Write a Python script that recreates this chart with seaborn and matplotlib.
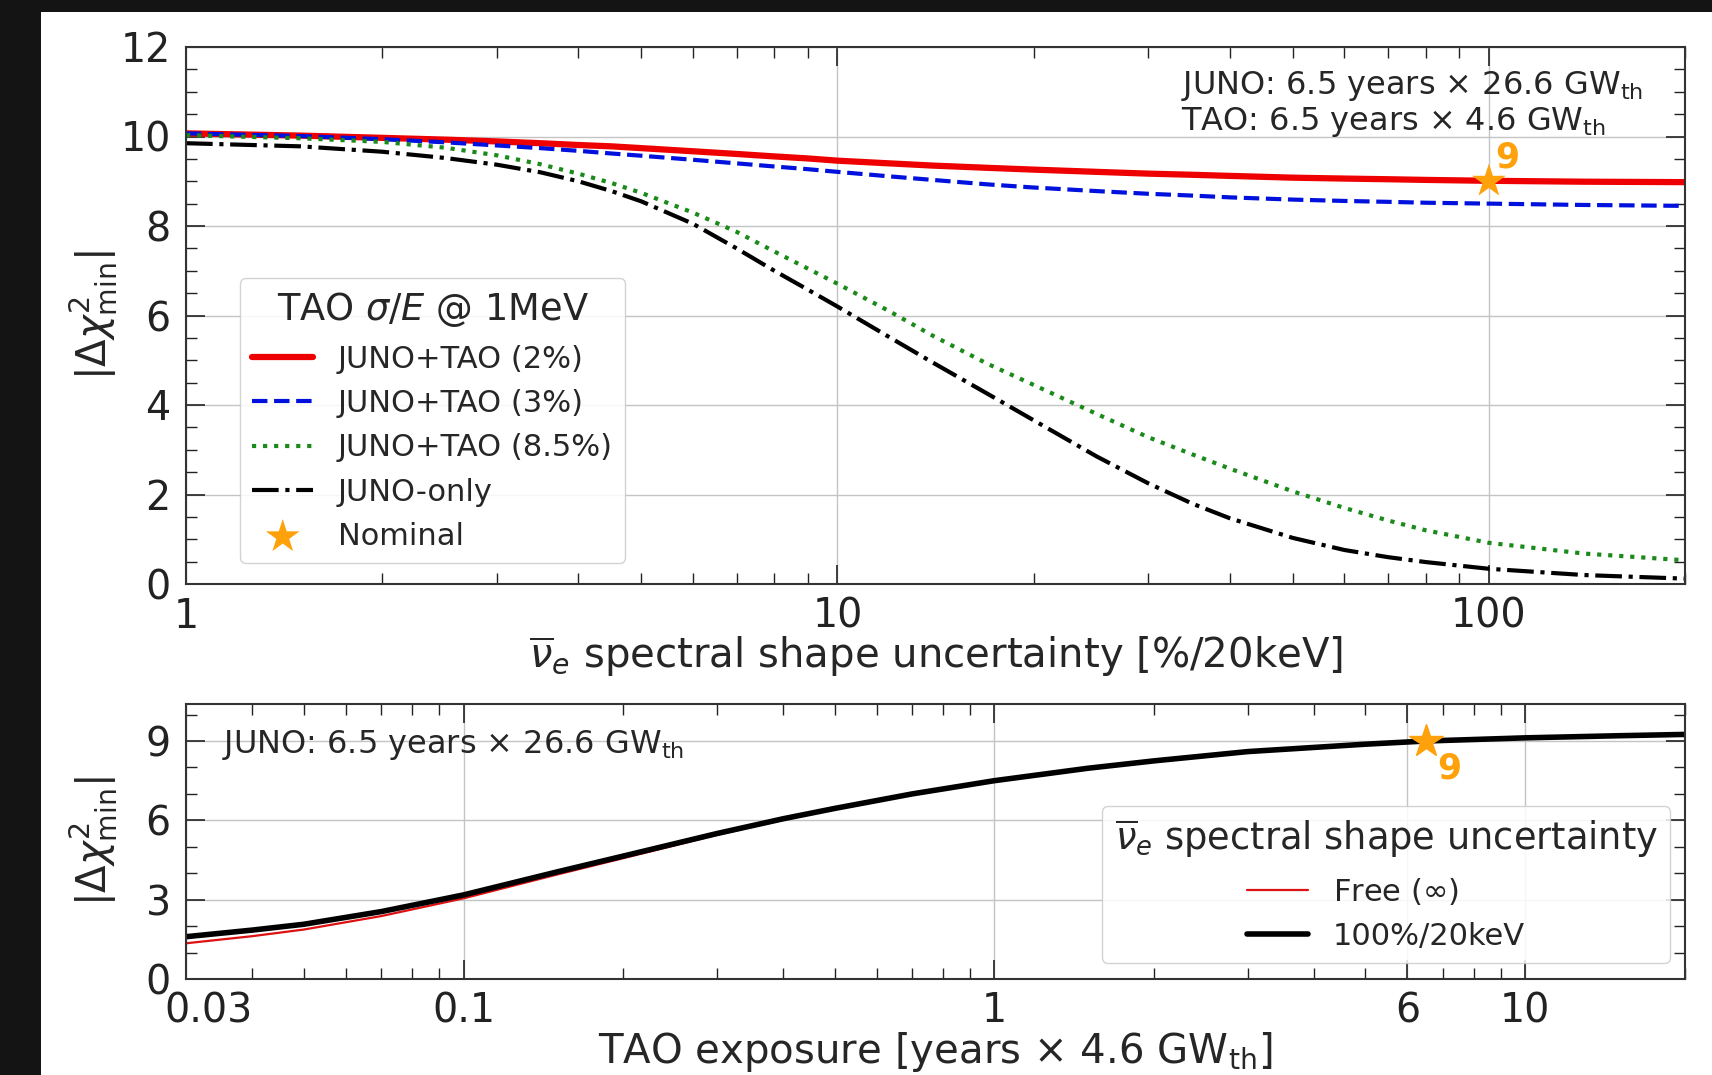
import numpy as np
import pandas as pd
import matplotlib
matplotlib.use("Agg")
import matplotlib.pyplot as plt
import matplotlib.transforms as mtransforms
from matplotlib.patches import Rectangle
from matplotlib.ticker import MultipleLocator, NullFormatter
import seaborn as sns

# ---------------- data ----------------
x_top = [1, 1.5, 2, 2.5, 3, 3.5, 4, 4.5, 5, 6, 7, 8, 9, 10, 12, 14, 17, 20, 25, 30, 35, 40,
         50, 60, 70, 80, 100, 140, 200]
juno_tao_2 = [10.07, 10.02, 9.97, 9.93, 9.89, 9.85, 9.81, 9.78, 9.74, 9.67, 9.61, 9.555, 9.51,
              9.46, 9.40, 9.35, 9.30, 9.26, 9.21, 9.17, 9.145, 9.12, 9.08, 9.06, 9.045, 9.03,
              9.01, 8.99, 8.98]
juno_tao_3 = [10.07, 10.01, 9.94, 9.87, 9.80, 9.74, 9.68, 9.62, 9.57, 9.48, 9.40, 9.33, 9.27,
              9.21, 9.11, 9.03, 8.93, 8.86, 8.78, 8.72, 8.68, 8.64, 8.59, 8.56, 8.54, 8.52,
              8.50, 8.47, 8.45]
juno_tao_85 = [10.03, 9.96, 9.88, 9.75, 9.58, 9.38, 9.17, 8.96, 8.74, 8.30, 7.87, 7.43, 7.05,
               6.71, 6.10, 5.55, 4.92, 4.45, 3.80, 3.28, 2.90, 2.58, 2.07, 1.70, 1.42, 1.20,
               0.92, 0.68, 0.53]
juno_only = [9.85, 9.78, 9.66, 9.52, 9.37, 9.20, 9.00, 8.78, 8.55, 8.05, 7.50, 7.00, 6.58,
             6.20, 5.52, 4.95, 4.25, 3.66, 2.85, 2.25, 1.80, 1.47, 1.03, 0.76, 0.60, 0.49,
             0.34, 0.20, 0.12]
nominal_top = (100, 9.0)

x_bot = [0.03, 0.04, 0.05, 0.07, 0.1, 0.15, 0.2, 0.3, 0.4, 0.5, 0.7, 1, 1.5, 2, 3, 5, 6.5,
         10, 15, 20]
free_inf = [1.35, 1.62, 1.87, 2.38, 3.05, 3.95, 4.57, 5.45, 6.02, 6.43, 6.98, 7.47, 7.95, 8.23,
            8.59, 8.87, 8.99, 9.11, 9.19, 9.24]
shape_100 = [1.60, 1.85, 2.07, 2.55, 3.18, 4.05, 4.65, 5.50, 6.06, 6.45, 7.00, 7.50, 7.97, 8.25,
             8.60, 8.88, 9.00, 9.12, 9.20, 9.25]
nominal_bot = (6.5, 9.0)

top_xticks = [1, 10, 100]
top_xticklabels = ["1", "10", "100"]
top_yticks = [0, 2, 4, 6, 8, 10, 12]
bot_xticks = [0.03, 0.1, 1, 6, 10]
bot_xticklabels = ["0.03", "0.1", "1", "6", "10"]
bot_yticks = [0, 3, 6, 9]

df_top = pd.DataFrame({"x": x_top, "r2": juno_tao_2, "r3": juno_tao_3,
                       "r85": juno_tao_85, "jo": juno_only})
df_bot = pd.DataFrame({"x": x_bot, "free": free_inf, "s100": shape_100})

# ---------------- style ----------------
sns.set_theme(style="ticks")
plt.rcParams["font.family"] = ["DejaVu Sans"]
plt.rcParams["mathtext.fontset"] = "dejavusans"
plt.rcParams["axes.edgecolor"] = "#333333"
plt.rcParams["axes.linewidth"] = 1.5

fig = plt.figure(figsize=(17.12, 10.75), dpi=100)
fig.patch.set_facecolor("#141414")
fig.add_artist(Rectangle((41 / 1712, 0), 1 - 41 / 1712, (1075 - 12) / 1075,
                         transform=fig.transFigure, facecolor="white",
                         edgecolor="none", zorder=-10))

ax1 = fig.add_axes([186 / 1712, 1 - 584 / 1075, 1499 / 1712, 537 / 1075])
ax2 = fig.add_axes([186 / 1712, 1 - 979 / 1075, 1499 / 1712, 275 / 1075])

ORANGE = "#ffa10a"
TICK_FS = 28.5
LABEL_FS = 29
TEXT_FS = 23
LEG_FS = 22
LEG_TITLE_FS = 26.5
YLABEL_X = (120 - 186) / 1499


def style_axis(ax):
    ax.set_xscale("log")
    ax.grid(True, which="major", color="#c4c4c4", linewidth=1.0)
    ax.tick_params(which="both", direction="in", top=True, right=True,
                   colors="#222222")
    ax.tick_params(which="major", length=14, width=1.2, labelsize=TICK_FS)
    ax.tick_params(which="minor", length=8, width=1.0)
    ax.tick_params(axis="x", which="major", pad=9)
    ax.tick_params(axis="y", which="major", pad=11)
    ax.xaxis.set_minor_formatter(NullFormatter())
    for s in ax.spines.values():
        s.set_visible(True)
        s.set_color("#333333")
        s.set_linewidth(1.5)


# ---------------- top panel ----------------
sns.lineplot(data=df_top, x="x", y="r2", ax=ax1, color="#ee0000", linewidth=4.5,
             label="JUNO+TAO (2%)")
sns.lineplot(data=df_top, x="x", y="r3", ax=ax1, color="#0010dd", linewidth=3,
             linestyle="--", label="JUNO+TAO (3%)")
sns.lineplot(data=df_top, x="x", y="r85", ax=ax1, color="#1a8a1a", linewidth=3,
             linestyle=":", label="JUNO+TAO (8.5%)")
sns.lineplot(data=df_top, x="x", y="jo", ax=ax1, color="black", linewidth=3,
             linestyle="-.", label="JUNO-only")
sns.scatterplot(x=[nominal_top[0]], y=[nominal_top[1]], ax=ax1, marker="*", s=650,
                color=ORANGE, edgecolor="none", label="Nominal", zorder=5)
ax1.annotate("9", xy=nominal_top, xytext=(13, 17), textcoords="offset points",
             color=ORANGE, fontsize=25, fontweight="bold", ha="center", va="center")

style_axis(ax1)
ax1.set_xlim(1, 200)
ax1.set_ylim(0, 12)
ax1.set_xticks(top_xticks, top_xticklabels)
ax1.set_yticks(top_yticks)
ax1.yaxis.set_minor_locator(MultipleLocator(0.5))
ax1.set_xlabel(r"$\overline{\nu}_e$ spectral shape uncertainty [%/20keV]", fontsize=LABEL_FS,
               labelpad=-2)
ax1.set_ylabel(r"$|\Delta\chi^2_{\rm min}|$", fontsize=LABEL_FS)
ax1.yaxis.set_label_coords(YLABEL_X, 0.5)

ax1.text(0.664, 0.912, r"JUNO: 6.5 years $\times$ 26.6 GW$_{\rm th}$", transform=ax1.transAxes,
         fontsize=TEXT_FS, ha="left", va="baseline")
ax1.text(0.664, 0.845, r"TAO: 6.5 years $\times$ 4.6 GW$_{\rm th}$", transform=ax1.transAxes,
         fontsize=TEXT_FS, ha="left", va="baseline")

ax1.legend(title=r"TAO $\sigma/E$ @ 1MeV", fontsize=LEG_FS, title_fontsize=LEG_TITLE_FS,
           loc="lower left", bbox_to_anchor=(0.036, 0.039), borderaxespad=0,
           frameon=True, fancybox=True, framealpha=0.85, edgecolor="#cccccc",
           labelspacing=0.5, handlelength=2.0)

# ---------------- bottom panel ----------------
sns.lineplot(data=df_bot, x="x", y="free", ax=ax2, color="#dd1111", linewidth=1.6,
             label=r"Free ($\infty$)")
sns.lineplot(data=df_bot, x="x", y="s100", ax=ax2, color="black", linewidth=4,
             label="100%/20keV")
ax2.plot([nominal_bot[0]], [nominal_bot[1]], marker="*", markersize=25, color=ORANGE,
         linestyle="none", zorder=5)
ax2.annotate("9", xy=nominal_bot, xytext=(17, -19.5), textcoords="offset points",
             color=ORANGE, fontsize=25, fontweight="bold", ha="center", va="center")

style_axis(ax2)
ax2.set_xlim(0.03, 20)
ax2.set_ylim(0, 10.4)
ax2.set_xticks(bot_xticks, bot_xticklabels)
ax2.set_yticks(bot_yticks)
ax2.yaxis.set_minor_locator(MultipleLocator(1))
ax2.set_xlabel(r"TAO exposure [years $\times$ 4.6 GW$_{\rm th}$]", fontsize=LABEL_FS,
               labelpad=-1)
ax2.set_ylabel(r"$|\Delta\chi^2_{\rm min}|$", fontsize=LABEL_FS)
ax2.yaxis.set_label_coords(YLABEL_X, 0.5)

# shift the "0.03" label right, as in the reference
shift = mtransforms.ScaledTranslation(16 / 72, 0, fig.dpi_scale_trans)
lbl = ax2.xaxis.get_majorticklabels()[0]
lbl.set_transform(lbl.get_transform() + shift)

ax2.text(0.024, 0.822, r"JUNO: 6.5 years $\times$ 26.6 GW$_{\rm th}$", transform=ax2.transAxes,
         fontsize=TEXT_FS, ha="left", va="baseline")

ax2.legend(title=r"$\overline{\nu}_e$ spectral shape uncertainty", fontsize=LEG_FS,
           title_fontsize=LEG_TITLE_FS, loc="lower right", bbox_to_anchor=(0.99, 0.058),
           borderaxespad=0, frameon=True, fancybox=True, framealpha=0.85,
           edgecolor="#cccccc", labelspacing=0.5, handlelength=2.0)

fig.savefig("out.png", dpi=100, facecolor=fig.get_facecolor())
